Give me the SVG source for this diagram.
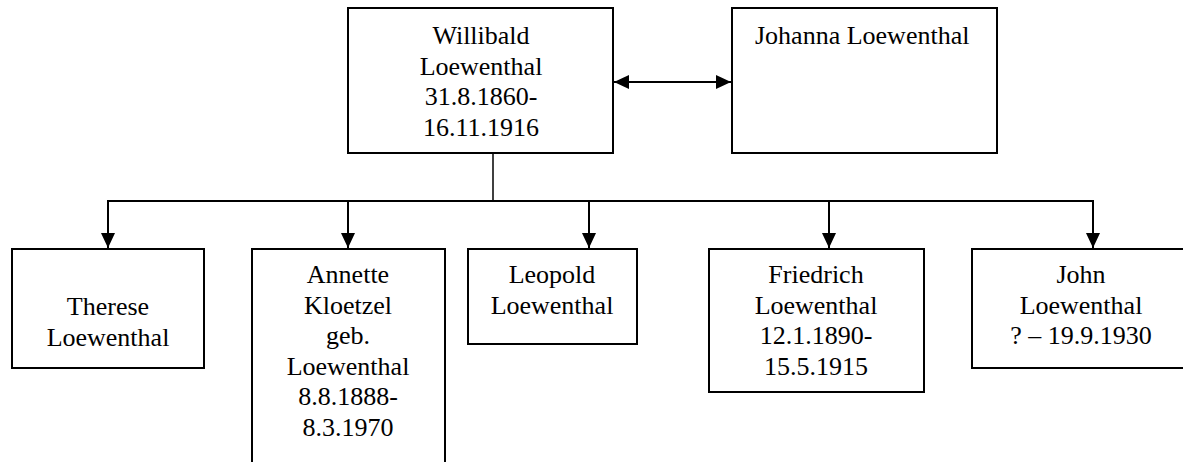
<svg xmlns="http://www.w3.org/2000/svg" width="1183" height="462" viewBox="0 0 1183 462">
<style>
.box{fill:#fff;stroke:#000;stroke-width:2}
.c{fill:none;stroke:#000;stroke-width:2}
text{font-family:'Liberation Serif','Tinos','DejaVu Serif',serif;font-size:26px;fill:#000}
.t{text-anchor:middle}
</style>
<defs>
<marker id="ah" markerUnits="userSpaceOnUse" markerWidth="16" markerHeight="16" viewBox="0 0 16 16" refX="15" refY="8" orient="auto-start-reverse">
<path d="M0,1 L15,8 L0,15 Z" fill="#000"/>
</marker>
</defs>
<rect width="1183" height="462" fill="#fff"/>
<g id="connectors">
<line class="c" x1="614" y1="82" x2="731" y2="82" marker-start="url(#ah)" marker-end="url(#ah)"/>
<line class="c" x1="493" y1="153" x2="493" y2="201" style="stroke-width:1.5"/>
<line class="c" x1="107" y1="201" x2="1094" y2="201"/>
<line class="c" x1="108" y1="201" x2="108" y2="248" marker-end="url(#ah)"/>
<line class="c" x1="348" y1="201" x2="348" y2="248" marker-end="url(#ah)"/>
<line class="c" x1="589" y1="201" x2="589" y2="248" marker-end="url(#ah)"/>
<line class="c" x1="829" y1="201" x2="829" y2="248" marker-end="url(#ah)"/>
<line class="c" x1="1093" y1="201" x2="1093" y2="248" marker-end="url(#ah)"/>
</g>
<g id="willibald">
<rect class="box" x="348" y="8" width="265" height="145"/>
<text class="t" x="481" y="44" font-family="Liberation Serif, serif">Willibald</text>
<text class="t" x="481" y="75" font-family="Liberation Serif, serif">Loewenthal</text>
<text class="t" x="481" y="105" font-family="Liberation Serif, serif">31.8.1860-</text>
<text class="t" x="481" y="136" font-family="Liberation Serif, serif">16.11.1916</text>
</g>
<g id="johanna">
<rect class="box" x="732" y="8" width="265" height="145"/>
<text x="755" y="44">Johanna Loewenthal</text>
</g>
<g id="therese">
<rect class="box" x="12" y="249" width="192" height="119"/>
<text class="t" x="108" y="315">Therese</text>
<text class="t" x="108" y="346">Loewenthal</text>
</g>
<g id="annette">
<rect class="box" x="252" y="249" width="193" height="230"/>
<text class="t" x="348" y="283">Annette</text>
<text class="t" x="348" y="314">Kloetzel</text>
<text class="t" x="348" y="344">geb.</text>
<text class="t" x="348" y="375">Loewenthal</text>
<text class="t" x="348" y="405">8.8.1888-</text>
<text class="t" x="348" y="436">8.3.1970</text>
</g>
<g id="leopold">
<rect class="box" x="468" y="249" width="169" height="95"/>
<text class="t" x="552" y="283">Leopold</text>
<text class="t" x="552" y="314">Loewenthal</text>
</g>
<g id="friedrich">
<rect class="box" x="709" y="249" width="215" height="143"/>
<text class="t" x="816" y="283">Friedrich</text>
<text class="t" x="816" y="314">Loewenthal</text>
<text class="t" x="816" y="344">12.1.1890-</text>
<text class="t" x="816" y="375">15.5.1915</text>
</g>
<g id="john">
<rect class="box" x="972" y="249" width="220" height="119"/>
<text class="t" x="1081" y="283">John</text>
<text class="t" x="1081" y="314">Loewenthal</text>
<text class="t" x="1081" y="344">? – 19.9.1930</text>
</g>
</svg>
